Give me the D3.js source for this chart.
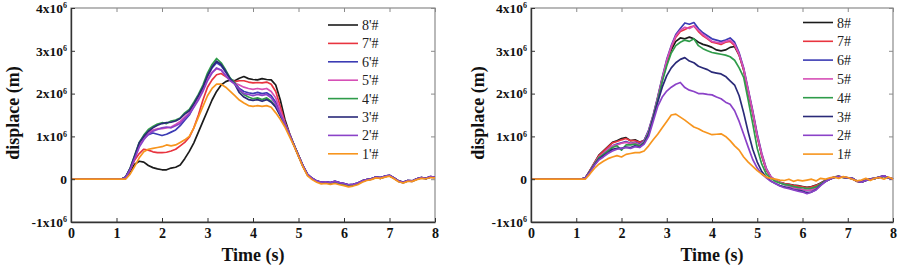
<!DOCTYPE html>
<html>
<head>
<meta charset="utf-8">
<script src="https://cdn.jsdelivr.net/npm/d3@7/dist/d3.min.js"></script>
<style>
  body { margin: 0; background: #fff; }
  svg text, svg g { font-family: "Liberation Serif", "Times New Roman", "DejaVu Serif", serif !important; }
</style>
</head>
<body>
<div id="chart"></div>
<script>
var svgWidth = 900;
var svgHeight = 269;
var serif = "'Liberation Serif', 'Times New Roman', serif";

// time samples (s)
var time = [0,
  1.1, 1.2, 1.3, 1.4, 1.5, 1.6, 1.7, 1.8, 1.9, 2.0,
  2.1, 2.2, 2.3, 2.4, 2.5, 2.6, 2.7, 2.8, 2.9, 3.0,
  3.1, 3.2, 3.3, 3.4, 3.5, 3.6, 3.7, 3.8, 3.9, 4.0,
  4.1, 4.2, 4.3, 4.4, 4.5, 4.6, 4.7, 4.8, 4.9, 5.0,
  5.1, 5.2, 5.3, 5.4, 5.5, 5.6, 5.7, 5.8, 5.9, 6.0,
  6.1, 6.2, 6.3, 6.4, 6.5, 6.6, 6.7, 6.8, 6.9, 7.0,
  7.1, 7.2, 7.3, 7.4, 7.5, 7.6, 7.7, 7.8, 7.9, 8.0];

var xTicks = [0, 1, 2, 3, 4, 5, 6, 7, 8];
var yTicks = [-1, 0, 1, 2, 3, 4];   // x10^6

var leftNames = ["8'#", "7'#", "6'#", "5'#", "4'#", "3'#", "2'#", "1'#"];
var rightNames = ["8#", "7#", "6#", "5#", "4#", "3#", "2#", "1#"];
var colors = ["#1b1b1b", "#e8343f", "#3b3bb4", "#d64fb6", "#2f9c4a", "#2a2a78", "#8b42c8", "#f7951e"];

// left panel, values x10^6 m
var left8 = [0,
  0, 0.03, 0.18, 0.35, 0.42, 0.40, 0.32, 0.27, 0.24, 0.22,
  0.22, 0.26, 0.28, 0.33, 0.48, 0.65, 0.85, 1.1, 1.35, 1.6,
  1.85, 2.05, 2.2, 2.28, 2.32, 2.3, 2.36, 2.4, 2.35, 2.33,
  2.32, 2.35, 2.33, 2.32, 2.2, 1.85, 1.4, 1.08, 0.8, 0.55,
  0.3, 0.1, 0.01, -0.05, -0.08, -0.07, -0.09, -0.06, -0.09, -0.11,
  -0.14, -0.13, -0.1, -0.04, -0.01, 0.01, 0.05, 0.03, 0.07, 0.08,
  0.03, -0.04, -0.07, -0.03, -0.04, 0.01, 0.04, 0.02, 0.05, 0.05];
var left7 = [0,
  0, 0.04, 0.22, 0.45, 0.6, 0.7, 0.68, 0.64, 0.62, 0.62,
  0.63, 0.66, 0.7, 0.78, 0.86, 0.98, 1.2, 1.5, 1.85, 2.15,
  2.32, 2.44, 2.47, 2.4, 2.33, 2.28, 2.3, 2.3, 2.27, 2.25,
  2.26, 2.25, 2.27, 2.22, 2.05, 1.7, 1.33, 1.06, 0.8, 0.55,
  0.3, 0.1, 0.01, -0.05, -0.09, -0.08, -0.1, -0.07, -0.1, -0.12,
  -0.15, -0.14, -0.11, -0.05, -0.02, 0.0, 0.04, 0.02, 0.06, 0.08,
  0.02, -0.05, -0.08, -0.04, -0.05, 0.0, 0.03, 0.01, 0.05, 0.04];
var left6 = [0,
  0, 0.05, 0.24, 0.52, 0.8, 0.95, 1.04, 1.08, 1.05, 1.02,
  1.05, 1.1, 1.15, 1.25, 1.38, 1.5, 1.7, 1.9, 2.15, 2.4,
  2.6, 2.72, 2.65, 2.5, 2.35, 2.25, 2.12, 2.05, 2.02, 2.0,
  2.03, 2.0, 2.02, 1.95, 1.8, 1.55, 1.3, 1.05, 0.8, 0.55,
  0.31, 0.11, 0.02, -0.04, -0.07, -0.06, -0.08, -0.05, -0.08, -0.1,
  -0.13, -0.12, -0.09, -0.04, -0.01, 0.01, 0.05, 0.04, 0.07, 0.09,
  0.03, -0.04, -0.07, -0.03, -0.04, 0.01, 0.04, 0.02, 0.06, 0.05];
var left5 = [0,
  0, 0.05, 0.24, 0.5, 0.8, 0.98, 1.1, 1.15, 1.18, 1.18,
  1.2, 1.22, 1.28, 1.35, 1.45, 1.55, 1.72, 1.9, 2.1, 2.35,
  2.5, 2.58, 2.55, 2.42, 2.3, 2.25, 2.2, 2.15, 2.12, 2.1,
  2.12, 2.1, 2.12, 2.05, 1.9, 1.6, 1.31, 1.06, 0.8, 0.55,
  0.3, 0.1, 0.01, -0.05, -0.09, -0.08, -0.1, -0.07, -0.1, -0.12,
  -0.15, -0.14, -0.11, -0.05, -0.02, 0.0, 0.04, 0.02, 0.06, 0.08,
  0.02, -0.05, -0.08, -0.04, -0.05, 0.0, 0.03, 0.01, 0.05, 0.04];
var left4 = [0,
  0, 0.05, 0.26, 0.56, 0.86, 1.03, 1.16, 1.23, 1.29, 1.32,
  1.3, 1.36, 1.38, 1.43, 1.55, 1.63, 1.8, 1.98, 2.2, 2.48,
  2.68, 2.82, 2.72, 2.55, 2.36, 2.25, 2.08, 1.98, 1.92, 1.88,
  1.9, 1.86, 1.9, 1.82, 1.7, 1.5, 1.28, 1.04, 0.8, 0.55,
  0.3, 0.1, 0.01, -0.05, -0.09, -0.08, -0.1, -0.07, -0.1, -0.12,
  -0.15, -0.14, -0.11, -0.05, -0.02, 0.0, 0.04, 0.02, 0.06, 0.08,
  0.02, -0.05, -0.08, -0.04, -0.05, 0.0, 0.03, 0.01, 0.05, 0.04];
var left3 = [0,
  0, 0.05, 0.25, 0.55, 0.85, 1.0, 1.12, 1.2, 1.26, 1.3,
  1.32, 1.33, 1.36, 1.42, 1.52, 1.6, 1.76, 1.95, 2.15, 2.42,
  2.62, 2.76, 2.68, 2.52, 2.34, 2.22, 2.02, 1.92, 1.86, 1.84,
  1.86, 1.82, 1.86, 1.8, 1.68, 1.48, 1.27, 1.04, 0.8, 0.55,
  0.31, 0.11, 0.02, -0.04, -0.07, -0.06, -0.08, -0.05, -0.08, -0.1,
  -0.13, -0.12, -0.09, -0.04, -0.01, 0.01, 0.05, 0.04, 0.07, 0.09,
  0.03, -0.04, -0.07, -0.03, -0.04, 0.01, 0.04, 0.02, 0.06, 0.05];
var left2 = [0,
  0, 0.04, 0.22, 0.48, 0.75, 0.92, 1.05, 1.12, 1.16, 1.2,
  1.22, 1.2, 1.25, 1.3, 1.42, 1.52, 1.68, 1.85, 2.05, 2.3,
  2.48, 2.6, 2.55, 2.42, 2.3, 2.22, 2.1, 2.0, 1.98, 1.95,
  1.98, 1.96, 1.98, 1.9, 1.75, 1.52, 1.29, 1.05, 0.8, 0.55,
  0.31, 0.11, 0.02, -0.04, -0.07, -0.06, -0.08, -0.05, -0.08, -0.1,
  -0.13, -0.12, -0.09, -0.04, -0.01, 0.01, 0.05, 0.04, 0.07, 0.09,
  0.03, -0.04, -0.07, -0.03, -0.04, 0.01, 0.04, 0.02, 0.06, 0.05];
var left1 = [0,
  0, 0.0, 0.12, 0.3, 0.5, 0.64, 0.7, 0.72, 0.74, 0.76,
  0.8, 0.78, 0.8, 0.86, 0.92, 1.0, 1.2, 1.45, 1.7, 1.95,
  2.12, 2.22, 2.22, 2.15, 2.05, 1.95, 1.85, 1.78, 1.72, 1.7,
  1.72, 1.7, 1.72, 1.68, 1.55, 1.4, 1.22, 1.0, 0.78, 0.53,
  0.28, 0.08, -0.01, -0.07, -0.11, -0.1, -0.12, -0.1, -0.13, -0.15,
  -0.18, -0.16, -0.13, -0.07, -0.03, -0.01, 0.03, 0.02, 0.05, 0.07,
  0.01, -0.06, -0.09, -0.05, -0.05, -0.01, 0.02, 0.01, 0.04, 0.03];

// right panel, values x10^6 m
var right8 = [0,
  0, 0.03, 0.2, 0.38, 0.56, 0.66, 0.76, 0.86, 0.9, 0.95,
  0.97, 0.9, 0.92, 0.87, 0.9, 1.1, 1.45, 1.88, 2.32, 2.7,
  3.02, 3.22, 3.3, 3.28, 3.32, 3.28, 3.2, 3.15, 3.12, 3.08,
  3.02, 3.0, 3.02, 3.08, 3.1, 2.9, 2.55, 2.05, 1.55, 1.0,
  0.55, 0.22, 0.05, -0.03, -0.07, -0.1, -0.12, -0.14, -0.15, -0.17,
  -0.19, -0.17, -0.14, -0.09, -0.03, 0.01, 0.05, 0.07, 0.04, 0.03,
  0.01, -0.05, -0.06, -0.02, 0.01, 0.02, 0.04, 0.07, 0.03, 0.01];
var right7 = [0,
  0, 0.03, 0.2, 0.38, 0.55, 0.65, 0.75, 0.85, 0.88, 0.92,
  0.95, 0.9, 0.9, 0.86, 0.9, 1.12, 1.48, 1.9, 2.35, 2.75,
  3.08, 3.32, 3.45, 3.5, 3.55, 3.58, 3.45, 3.35, 3.28, 3.2,
  3.18, 3.15, 3.2, 3.22, 3.12, 2.9, 2.55, 2.05, 1.55, 1.0,
  0.55, 0.22, 0.05, -0.03, -0.07, -0.1, -0.12, -0.15, -0.16, -0.18,
  -0.2, -0.18, -0.15, -0.1, -0.04, 0.01, 0.05, 0.06, 0.04, 0.03,
  0.01, -0.05, -0.06, -0.02, 0.01, 0.02, 0.04, 0.07, 0.03, 0.01];
var right6 = [0,
  0, 0.03, 0.18, 0.35, 0.5, 0.6, 0.7, 0.78, 0.82, 0.85,
  0.88, 0.84, 0.86, 0.82, 0.9, 1.15, 1.5, 1.92, 2.38, 2.8,
  3.12, 3.38, 3.52, 3.65, 3.62, 3.66, 3.52, 3.42, 3.35, 3.28,
  3.25, 3.22, 3.25, 3.3, 3.2, 2.95, 2.6, 2.1, 1.6, 1.05,
  0.6, 0.25, 0.06, -0.03, -0.08, -0.12, -0.15, -0.2, -0.22, -0.24,
  -0.27, -0.25, -0.2, -0.12, -0.05, 0.0, 0.04, 0.06, 0.05, 0.03,
  0.02, -0.04, -0.07, -0.03, 0.0, 0.02, 0.05, 0.08, 0.03, 0.0];
var right5 = [0,
  0, 0.03, 0.18, 0.36, 0.52, 0.6, 0.7, 0.78, 0.8, 0.84,
  0.86, 0.83, 0.85, 0.8, 0.88, 1.12, 1.48, 1.9, 2.35, 2.78,
  3.1, 3.35, 3.48, 3.55, 3.52, 3.58, 3.48, 3.38, 3.3, 3.22,
  3.2, 3.18, 3.22, 3.25, 3.15, 2.92, 2.58, 2.08, 1.58, 1.02,
  0.58, 0.24, 0.06, -0.03, -0.08, -0.12, -0.16, -0.2, -0.22, -0.24,
  -0.26, -0.25, -0.2, -0.12, -0.05, 0.0, 0.04, 0.06, 0.05, 0.03,
  0.02, -0.04, -0.07, -0.03, 0.0, 0.02, 0.05, 0.08, 0.03, 0.0];
var right4 = [0,
  0, 0.03, 0.18, 0.35, 0.5, 0.58, 0.66, 0.74, 0.78, 0.68,
  0.8, 0.8, 0.82, 0.78, 0.86, 1.08, 1.45, 1.85, 2.28, 2.65,
  2.95, 3.12, 3.2, 3.25, 3.22, 3.28, 3.12, 3.05, 3.0, 2.96,
  2.94, 2.92, 2.9, 2.86, 2.78, 2.6, 2.38, 1.85, 1.3, 0.72,
  0.35, 0.12, 0.02, -0.05, -0.09, -0.12, -0.14, -0.17, -0.19, -0.2,
  -0.22, -0.21, -0.18, -0.11, -0.05, 0.0, 0.04, 0.06, 0.04, 0.03,
  0.02, -0.04, -0.07, -0.03, 0.0, 0.02, 0.05, 0.07, 0.03, 0.0];
var right3 = [0,
  0, 0.03, 0.17, 0.33, 0.47, 0.55, 0.62, 0.7, 0.72, 0.72,
  0.75, 0.74, 0.78, 0.75, 0.84, 1.05, 1.42, 1.8, 2.15, 2.42,
  2.6, 2.72, 2.8, 2.84, 2.76, 2.72, 2.64, 2.6, 2.56, 2.5,
  2.48, 2.46, 2.4, 2.3, 2.2, 1.95, 1.55, 1.1, 0.7, 0.4,
  0.18, 0.05, -0.04, -0.1, -0.15, -0.18, -0.2, -0.24, -0.26, -0.28,
  -0.32, -0.3, -0.24, -0.14, -0.06, 0.0, 0.04, 0.06, 0.05, 0.03,
  0.02, -0.04, -0.07, -0.03, 0.0, 0.02, 0.05, 0.08, 0.03, 0.0];
var right2 = [0,
  0, 0.03, 0.16, 0.32, 0.45, 0.52, 0.6, 0.66, 0.7, 0.72,
  0.74, 0.72, 0.76, 0.74, 0.82, 1.0, 1.35, 1.7, 1.92, 2.06,
  2.15, 2.22, 2.26, 2.14, 2.08, 2.05, 2.0, 2.0, 1.98, 1.97,
  1.92, 1.88, 1.8, 1.75, 1.6, 1.35, 1.05, 0.75, 0.46, 0.26,
  0.12, 0.03, -0.05, -0.1, -0.16, -0.2, -0.22, -0.25, -0.28, -0.3,
  -0.34, -0.3, -0.25, -0.15, -0.06, 0.0, 0.04, 0.06, 0.05, 0.03,
  0.02, -0.04, -0.07, -0.03, 0.0, 0.02, 0.05, 0.08, 0.03, 0.0];
var right1 = [0,
  0, 0.0, 0.12, 0.25, 0.35, 0.42, 0.48, 0.52, 0.55, 0.52,
  0.58, 0.6, 0.62, 0.62, 0.66, 0.78, 0.92, 1.05, 1.2, 1.35,
  1.5, 1.52, 1.45, 1.38, 1.3, 1.22, 1.18, 1.12, 1.08, 1.04,
  1.05, 1.06, 1.0, 0.9, 0.78, 0.68, 0.52, 0.4, 0.3, 0.2,
  0.12, 0.05, 0.02, 0.0, -0.02, -0.03, 0.0, -0.05, -0.02, -0.04,
  -0.02, 0.0, -0.04, 0.02, 0.0, 0.03, 0.05, 0.02, 0.06, 0.04,
  0.0, -0.04, -0.02, 0.02, -0.03, 0.02, 0.04, 0.0, 0.05, 0.0];

var leftSeries = [left8, left7, left6, left5, left4, left3, left2, left1];
var rightSeries = [right8, right7, right6, right5, right4, right3, right2, right1];

var svg = d3.select("#chart")
  .append("svg")
  .attr("width", svgWidth)
  .attr("height", svgHeight)
  .attr("font-family", serif);

var plotTop = 8;
var plotHeight = 214;

function drawPanel(cfg) {
  var g = svg.append("g")
    .attr("transform", `translate(${cfg.left}, ${plotTop})`);

  var x = d3.scaleLinear().domain([0, 8]).range([0, cfg.width]);
  var y = d3.scaleLinear().domain([-1, 4]).range([plotHeight, 0]);

  // frame (top / right in light grey)
  g.append("rect")
    .attr("width", cfg.width)
    .attr("height", plotHeight)
    .attr("fill", "none")
    .attr("stroke", "#8a8a8a")
    .attr("stroke-width", 1.2);

  // top & right inward ticks
  g.append("g")
    .call(d3.axisTop(x).tickValues(xTicks).tickSize(-4).tickFormat(""))
    .call(a => a.select(".domain").remove())
    .selectAll("line").attr("stroke", "#8a8a8a");
  g.append("g")
    .attr("transform", `translate(${cfg.width}, 0)`)
    .call(d3.axisRight(y).tickValues(yTicks).tickSize(-4).tickFormat(""))
    .call(a => a.select(".domain").remove())
    .selectAll("line").attr("stroke", "#8a8a8a");

  // lines
  var line = d3.line()
    .x((d, i) => x(time[i]))
    .y(d => y(d));

  cfg.series.forEach(function (s, i) {
    g.append("path")
      .datum(s)
      .attr("fill", "none")
      .attr("stroke", colors[i])
      .attr("stroke-width", 1.7)
      .attr("stroke-linejoin", "round")
      .attr("d", line);
  });

  // bottom axis
  var xAxis = g.append("g")
    .attr("transform", `translate(0, ${plotHeight})`)
    .call(d3.axisBottom(x).tickValues(xTicks).tickSizeInner(-4).tickSizeOuter(0).tickPadding(6).tickFormat(d3.format("d")))
    .attr("font-family", serif);
  xAxis.select(".domain").attr("stroke", "#333").attr("stroke-width", 1.4);
  xAxis.selectAll("line").attr("stroke", "#333");
  xAxis.selectAll("text")
    .attr("font-family", serif)
    .attr("font-size", "14px")
    .attr("font-weight", "bold")
    .attr("fill", "#111");

  // left axis
  var yAxis = g.append("g")
    .call(d3.axisLeft(y).tickValues(yTicks).tickSizeInner(-4).tickSizeOuter(0).tickPadding(4).tickFormat(d3.format("d")))
    .attr("font-family", serif);
  yAxis.select(".domain").attr("stroke", "#333").attr("stroke-width", 1.4);
  yAxis.selectAll("line").attr("stroke", "#333");
  yAxis.selectAll("text")
    .attr("font-family", serif)
    .attr("font-size", "13.5px")
    .attr("font-weight", "bold")
    .attr("fill", "#111")
    .each(function (d) {
      var t = d3.select(this);
      if (d !== 0) {
        t.text(d + "x10");
        t.append("tspan")
          .attr("dy", "-0.55em")
          .attr("font-size", "8px")
          .text("6");
      }
    });

  // axis titles
  g.append("text")
    .attr("x", cfg.width / 2)
    .attr("y", plotHeight + 39)
    .attr("text-anchor", "middle")
    .attr("font-family", serif)
    .attr("font-size", "18px")
    .attr("font-weight", "bold")
    .attr("fill", "#111")
    .text("Time (s)");

  g.append("text")
    .attr("transform", `translate(${cfg.yLabelX}, ${plotHeight / 2 - 2}) rotate(-90)`)
    .attr("text-anchor", "middle")
    .attr("dy", "0.35em")
    .attr("font-family", serif)
    .attr("font-size", "18px")
    .attr("font-weight", "bold")
    .attr("fill", "#111")
    .text("displace (m)");

  // legend
  var legend = g.append("g")
    .attr("transform", `translate(${cfg.legendX}, ${cfg.legendY})`);
  cfg.names.forEach(function (name, i) {
    var row = legend.append("g").attr("transform", `translate(0, ${i * cfg.legendStep})`);
    row.append("line")
      .attr("x1", 0).attr("x2", 30)
      .attr("stroke", colors[i])
      .attr("stroke-width", 1.6);
    row.append("text")
      .attr("x", 34)
      .attr("dy", "0.36em")
      .attr("font-family", serif)
      .attr("font-size", "14px")
      .attr("fill", "#222")
      .text(name);
  });
}

drawPanel({
  left: 71, width: 364, series: leftSeries, names: leftNames,
  yLabelX: -58, legendX: 257, legendY: 17, legendStep: 18.4
});
drawPanel({
  left: 531, width: 362, series: rightSeries, names: rightNames,
  yLabelX: -53, legendX: 272, legendY: 14.5, legendStep: 18.8
});
</script>
</body>
</html>
